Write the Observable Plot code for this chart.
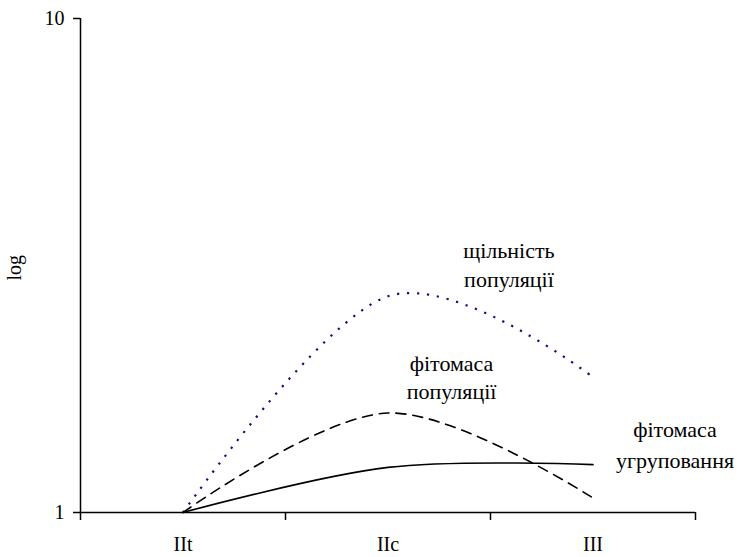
<!DOCTYPE html>
<html>
<head>
<meta charset="utf-8">
<script src="https://cdn.jsdelivr.net/npm/d3@7"></script>
<script src="https://cdn.jsdelivr.net/npm/@observablehq/plot@0.6"></script>
<style>
  html, body { margin: 0; padding: 0; background: #fff; }
  #chart svg { display: block; }
</style>
</head>
<body>
<div id="chart"></div>
<script>
// Stages of the population (category axis)
const categories = ["IIt", "IIc", "III"];

// Series values on a log scale, one per stage
const populationDensity = [1, 2.74, 1.88];   // щільність популяції
const populationBiomass = [1, 1.59, 1.07];   // фітомаса популяції
const communityBiomass  = [1, 1.234, 1.25];  // фітомаса угруповання

// Y axis tick values
const yTicks = [1, 10];

// Line labels, anchored at a stage position and a value
const labelLines = [
  {text: "щільність", x: 2.09, y: 3.38},
  {text: "популяції", x: 2.09, y: 2.95},
  {text: "фітомаса", x: 1.81, y: 2.0},
  {text: "популяції", x: 1.81, y: 1.75},
  {text: "фітомаса", x: 2.9, y: 1.466},
  {text: "угруповання", x: 2.9, y: 1.274}
];

const toRows = (values) => values.map((v, i) => ({x: i + 0.5, y: v, stage: categories[i]}));

const font = "'Liberation Serif', 'Times New Roman', serif";

const chart = Plot.plot({
  width: 737,
  height: 557,
  marginLeft: 80,
  marginRight: 42,
  marginTop: 18,
  marginBottom: 45,
  style: {fontFamily: font, fontSize: "20px", color: "#000", background: "#fff"},
  x: {type: "linear", domain: [0, categories.length], axis: null},
  y: {type: "log", domain: [1, 10], axis: null},
  marks: [
    // axis lines
    Plot.ruleX([0], {y1: 1, y2: 10, stroke: "#000", strokeWidth: 1.5}),
    Plot.ruleY([1], {x1: 0, x2: categories.length, stroke: "#000", strokeWidth: 1.5}),
    // y ticks and labels
    Plot.axisY(yTicks, {label: null, tickSize: 7, tickPadding: 9, tickFormat: (d) => String(d), stroke: "#000", strokeWidth: 1.5, fontSize: 20, fill: "#000"}),
    Plot.text(["log"], {frameAnchor: "left", dx: -66, dy: 15, rotate: -90, fontSize: 20, fill: "#000"}),
    // x boundary ticks between stages
    Plot.axisX(d3.range(categories.length + 1), {label: null, tickSize: 8, tickFormat: () => "", stroke: "#000", strokeWidth: 1.5}),
    // stage labels centred in each band
    Plot.axisX(categories.map((_, i) => i + 0.5), {label: null, tickSize: 0, tickPadding: 24, tickFormat: (d) => categories[Math.floor(d)], fontSize: 20, fill: "#000"}),
    // series
    Plot.line(toRows(populationDensity), {x: "x", y: "y", curve: "cardinal", tension: 0, stroke: "#10107a", strokeWidth: 2.2, strokeDasharray: "2.2,7.8", strokeLinecap: "butt"}),
    Plot.line(toRows(populationBiomass), {x: "x", y: "y", curve: "cardinal", tension: 0, stroke: "#000", strokeWidth: 1.6, strokeDasharray: "10,7"}),
    Plot.line(toRows(communityBiomass), {x: "x", y: "y", curve: "cardinal", tension: 0, stroke: "#000", strokeWidth: 1.6}),
    // line labels
    Plot.text(labelLines, {x: "x", y: "y", text: "text", fontSize: 22, fill: "#000"})
  ]
});

document.getElementById("chart").append(chart);
</script>
</body>
</html>
